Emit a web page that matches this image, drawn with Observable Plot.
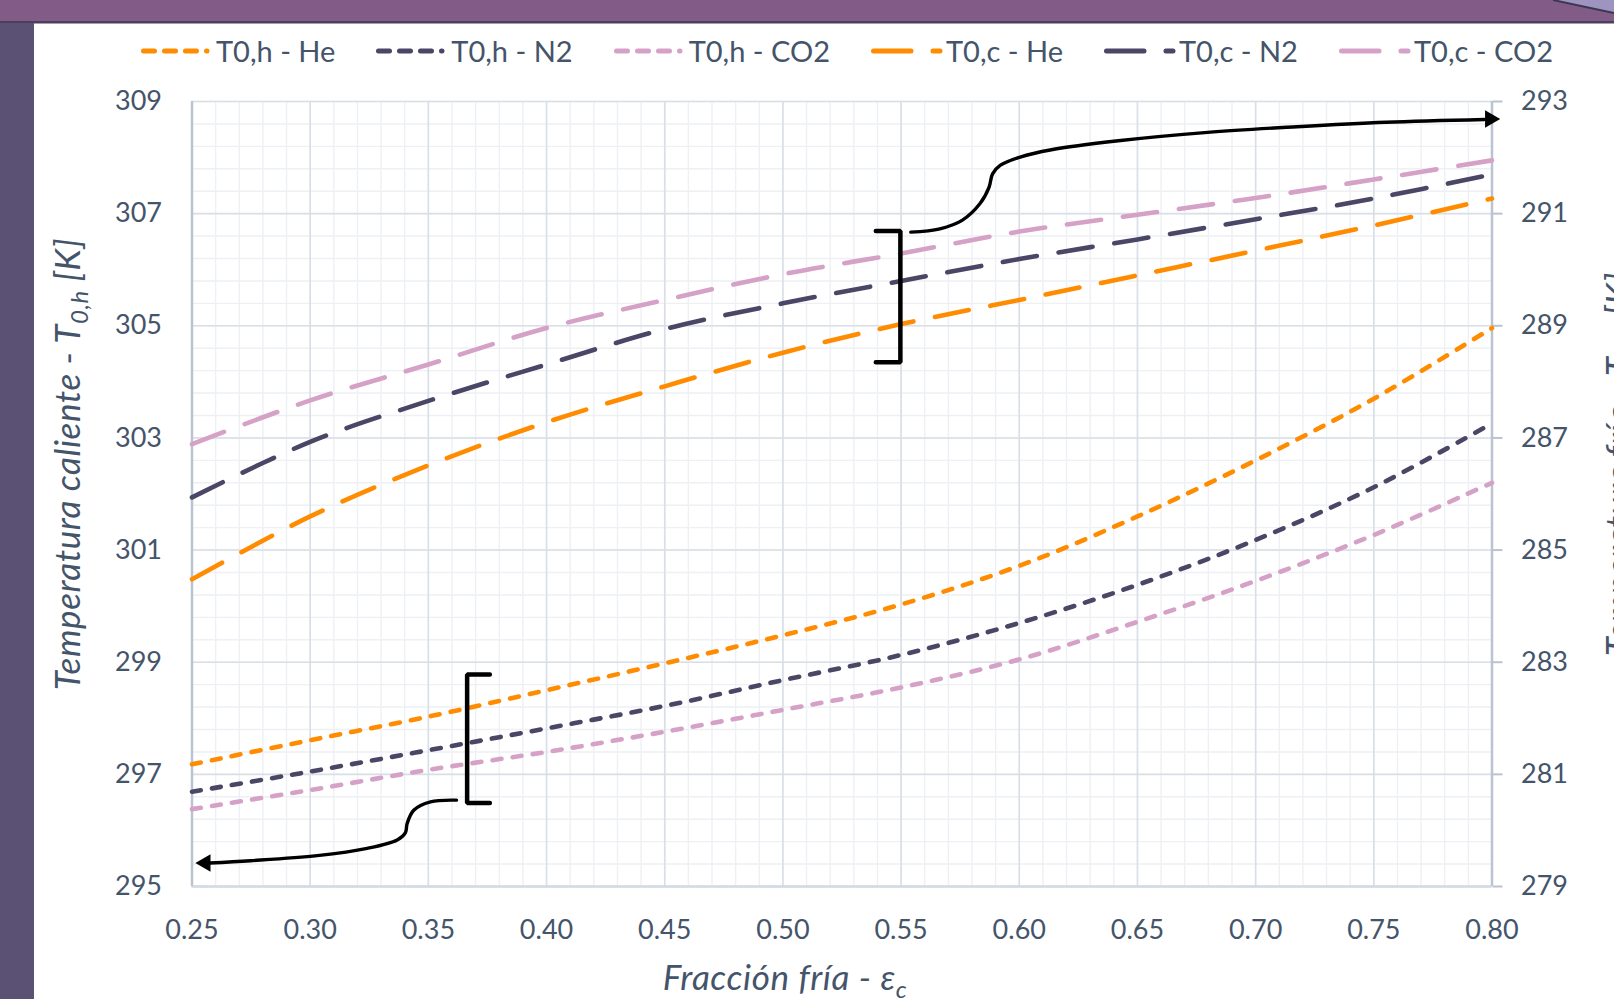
<!DOCTYPE html>
<html><head><meta charset="utf-8">
<script src="https://cdn.jsdelivr.net/npm/d3@7"></script>
<script src="https://cdn.jsdelivr.net/npm/@observablehq/plot@0.6"></script>
<style>
html,body{margin:0;padding:0;width:1614px;height:999px;overflow:hidden;background:#fff;font-family:Lato,"Open Sans",sans-serif;}
#deco{position:absolute;left:0;top:0;}
#chart{position:absolute;left:0;top:0;}
#legend{position:absolute;top:33px;left:141px;display:flex;align-items:center;gap:41px;font-size:29px;color:#44546a;white-space:nowrap;}
.item{display:flex;align-items:center;gap:3px;}
</style></head><body>
<svg id="deco" width="1614" height="999">
  <rect x="0" y="0" width="1614" height="22" fill="#825b87"/>
  <polygon points="1553,0 1614,0 1614,13" fill="#9d94c0"/>
  <line x1="1553" y1="0" x2="1614" y2="13" stroke="#3d3852" stroke-width="2"/>
  <rect x="0" y="21" width="1614" height="2.5" fill="#4a3f5c"/>
  <rect x="0" y="23" width="34" height="976" fill="#5a5174"/>
</svg>
<div id="chart"></div>
<div id="legend"></div>
<script>
// ---------- data ----------
const fraccion = [0.25, 0.30, 0.35, 0.40, 0.45, 0.50, 0.55, 0.60, 0.65, 0.70, 0.75, 0.80];
const gases = ["He", "N2", "CO2"];
const gasColors = ["#ff8c00", "#4b4566", "#d5a1c6"];
// T0,h  (left axis, K)
const t0hHe  = [297.18, 297.61, 298.03, 298.50, 298.98, 299.48, 300.03, 300.72, 301.60, 302.60, 303.70, 304.96];
const t0hN2  = [296.69, 297.05, 297.43, 297.82, 298.22, 298.68, 299.13, 299.70, 300.38, 301.18, 302.12, 303.26];
const t0hCO2 = [296.38, 296.72, 297.08, 297.40, 297.76, 298.15, 298.55, 299.05, 299.72, 300.45, 301.27, 302.20];
// T0,c  (right axis, K)
const t0cHe  = [284.48, 285.60, 286.51, 287.28, 287.92, 288.52, 289.03, 289.46, 289.90, 290.34, 290.79, 291.27];
const t0cN2  = [285.94, 286.93, 287.66, 288.31, 288.94, 289.40, 289.80, 290.19, 290.54, 290.90, 291.27, 291.70];
const t0cCO2 = [286.89, 287.67, 288.31, 288.96, 289.46, 289.92, 290.29, 290.68, 290.98, 291.28, 291.61, 291.95];
const leftTicks  = [295, 297, 299, 301, 303, 305, 307, 309];
const rightTicks = [279, 281, 283, 285, 287, 289, 291, 293];
const xTicks = [0.25, 0.30, 0.35, 0.40, 0.45, 0.50, 0.55, 0.60, 0.65, 0.70, 0.75, 0.80];
const axisOffset = leftTicks[0] - rightTicks[0]; // right axis K -> left axis K
// annotations (data units, left axis)
const bracketHot  = [[0.3760, 298.78], [0.3664, 298.78], [0.3664, 296.49], [0.3760, 296.49]];
const bracketCold = [[0.5393, 306.69], [0.5497, 306.69], [0.5497, 304.35], [0.5393, 304.35]];
const arrowHot = [[0.3619, 296.54], [0.3509, 296.51], [0.3438, 296.36], [0.3410, 296.12], [0.3403, 295.96],
                  [0.3368, 295.83], [0.3241, 295.68], [0.3030, 295.55], [0.2748, 295.46], [0.2575, 295.42]];
const arrowHotHead = [[0.2557, 295.42]];
const arrowCold = [[0.5541, 306.67], [0.5664, 306.73], [0.5758, 306.88], [0.5834, 307.18], [0.5872, 307.47],
                   [0.5887, 307.71], [0.5919, 307.86], [0.6004, 308.01], [0.6136, 308.14], [0.6419, 308.30],
                   [0.6797, 308.45], [0.7175, 308.55], [0.7552, 308.63], [0.7968, 308.68]];
const arrowColdHead = [[0.7992, 308.69]];

const hot = [t0hHe, t0hN2, t0hCO2];
const cold = [t0cHe, t0cN2, t0cCO2];
const shortDash = "9,11.3";
const longDash = "34.5,22";

// ---------- chart ----------
const minorX = d3.range(25, 81).map(v => v / 100);
const minorY = d3.range(0, 36).map(i => 295 + i * 0.4);

const lineMarks = [];
gases.forEach((g, i) => {
  const dh = fraccion.map((x, j) => ({x, y: hot[i][j]}));
  const dc = fraccion.map((x, j) => ({x, y: cold[i][j] + axisOffset}));
  lineMarks.push(Plot.line(dh, {x: "x", y: "y", stroke: gasColors[i], strokeWidth: 4.6, strokeDasharray: shortDash, strokeLinecap: "round", curve: "catmull-rom"}));
  lineMarks.push(Plot.line(dc, {x: "x", y: "y", stroke: gasColors[i], strokeWidth: 4.6, strokeDasharray: longDash, strokeLinecap: "round", curve: "catmull-rom"}));
});

const svg = Plot.plot({
  width: 1614, height: 999,
  marginLeft: 191.5, marginRight: 122.5, marginTop: 101, marginBottom: 113,
  style: {fontFamily: "Lato, 'Open Sans', sans-serif", fontSize: "27px", color: "#44546a", background: "transparent", overflow: "visible"},
  x: {domain: [0.25, 0.80]},
  y: {domain: [295, 309]},
  marks: [
    Plot.ruleX(minorX, {stroke: "#edf0f4", strokeWidth: 1.4}),
    Plot.ruleY(minorY, {stroke: "#edf0f4", strokeWidth: 1.4}),
    Plot.ruleX(xTicks, {stroke: "#d9dfe7", strokeWidth: 1.6}),
    Plot.ruleY(leftTicks, {stroke: "#d9dfe7", strokeWidth: 1.6}),
    Plot.ruleY([295], {stroke: "#d3dae3", strokeWidth: 2.5}),
    Plot.ruleX([0.25], {stroke: "#b9c3d1", strokeWidth: 2.5}),
    Plot.ruleX([0.80], {stroke: "#b9c3d1", strokeWidth: 2.5}),
    Plot.axisX(xTicks, {tickFormat: d3.format(".2f"), tickSize: 0, tickPadding: 33, label: null, fill: "#44546a"}),
    Plot.axisY(leftTicks, {anchor: "left", tickFormat: d3.format("d"), tickSize: 0, tickPadding: 30, label: null, fill: "#44546a"}),
    Plot.axisY(rightTicks.map(t => t + axisOffset), {anchor: "right", tickFormat: d => d3.format("d")(d - axisOffset), tickSize: 10, tickPadding: 19, label: null, stroke: "#b9c3d1", strokeWidth: 2, fill: "#44546a"}),
    ...lineMarks,
    Plot.line(bracketHot, {x: d => d[0], y: d => d[1], stroke: "black", strokeWidth: 4.5, strokeLinejoin: "miter"}),
    Plot.line(bracketCold, {x: d => d[0], y: d => d[1], stroke: "black", strokeWidth: 4.5, strokeLinejoin: "miter"}),
    Plot.line(arrowHot, {x: d => d[0], y: d => d[1], stroke: "black", strokeWidth: 3.4, curve: "catmull-rom"}),
    Plot.line(arrowCold, {x: d => d[0], y: d => d[1], stroke: "black", strokeWidth: 3.4, curve: "catmull-rom"}),
    Plot.dot(arrowHotHead, {x: d => d[0], y: d => d[1], symbol: "triangle", r: 6.5, fill: "black", rotate: -90}),
    Plot.dot(arrowColdHead, {x: d => d[0], y: d => d[1], symbol: "triangle", r: 6.5, fill: "black", rotate: 90})
  ]
});

const s = d3.select(svg);
const titleStyle = t => t.attr("fill", "#44546a").attr("font-style", "italic").attr("font-size", 35)
  .attr("letter-spacing", 0.6).attr("font-family", "Lato, 'Open Sans', sans-serif");
// left axis title
const lt = s.append("text").attr("transform", "translate(80,464) rotate(-90)").attr("text-anchor", "middle").call(titleStyle);
lt.append("tspan").text("Temperatura caliente - T");
lt.append("tspan").attr("font-size", 24).attr("dy", 8).text("0,h");
lt.append("tspan").attr("dy", -8).text(" [K]");
// right axis title (cut by page edge)
const rt = s.append("text").attr("transform", "translate(1631,464) rotate(-90)").attr("text-anchor", "middle").call(titleStyle);
rt.append("tspan").text("Temperatura fría - T");
rt.append("tspan").attr("font-size", 24).attr("dy", 8).text("0,c");
rt.append("tspan").attr("dy", -8).text(" [K]");
// x axis title
const xt = s.append("text").attr("x", 785).attr("y", 990).attr("text-anchor", "middle").call(titleStyle);
xt.append("tspan").text("Fracción fría - ε");
xt.append("tspan").attr("font-size", 24).attr("dy", 8).text("c");

document.getElementById("chart").appendChild(svg);

// ---------- legend ----------
const legendItems = [];
gases.forEach((g, i) => legendItems.push({label: "T0,h - " + g, color: gasColors[i], dash: "11,10", len: 63.5}));
gases.forEach((g, i) => legendItems.push({label: "T0,c - " + g, color: gasColors[i], dash: "37.5,22", len: 66.5}));
const leg = d3.select("#legend");
legendItems.forEach(it => {
  const item = leg.append("div").attr("class", "item");
  const sw = item.append("svg").attr("width", 72).attr("height", 12);
  sw.append("line").attr("x1", 2.5).attr("x2", 2.5 + it.len).attr("y1", 6).attr("y2", 6)
    .attr("stroke", it.color).attr("stroke-width", 5).attr("stroke-linecap", "round").attr("stroke-dasharray", it.dash);
  item.append("span").text(it.label);
});
</script>
</body></html>
